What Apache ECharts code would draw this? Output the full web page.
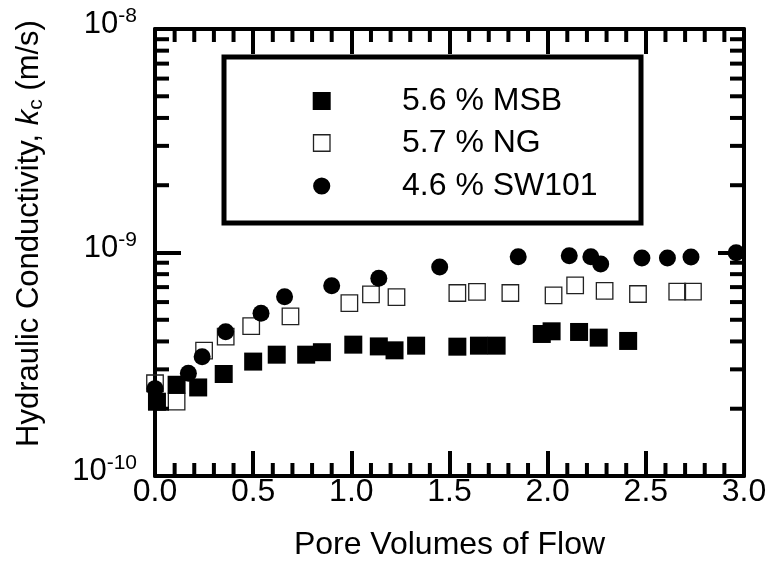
<!DOCTYPE html>
<html><head><meta charset="utf-8">
<script src="https://cdn.jsdelivr.net/npm/echarts@6/dist/echarts.min.js"></script>
<style>html,body{margin:0;padding:0;background:#fff}#c{width:775px;height:569px}</style>
</head><body><div id="c"></div>
<script>
// ---- data ----
const msbX = [0.01, 0.11, 0.22, 0.35, 0.50, 0.62, 0.77, 0.85, 1.01, 1.14, 1.22, 1.33, 1.54, 1.65, 1.74, 1.97, 2.02, 2.16, 2.26, 2.41];
const msbY = [2.15e-10, 2.56e-10, 2.49e-10, 2.86e-10, 3.25e-10, 3.49e-10, 3.49e-10, 3.58e-10, 3.87e-10, 3.80e-10, 3.65e-10, 3.83e-10, 3.79e-10, 3.83e-10, 3.83e-10, 4.32e-10, 4.44e-10, 4.41e-10, 4.16e-10, 4.02e-10];
const ngX = [0.00, 0.11, 0.25, 0.36, 0.49, 0.69, 0.99, 1.10, 1.23, 1.54, 1.64, 1.81, 2.03, 2.14, 2.29, 2.46, 2.66, 2.74];
const ngY = [2.60e-10, 2.15e-10, 3.64e-10, 4.20e-10, 4.68e-10, 5.18e-10, 5.94e-10, 6.50e-10, 6.32e-10, 6.59e-10, 6.66e-10, 6.59e-10, 6.43e-10, 7.13e-10, 6.73e-10, 6.52e-10, 6.68e-10, 6.68e-10];
const swX = [0.00, 0.17, 0.24, 0.36, 0.54, 0.66, 0.90, 1.14, 1.45, 1.85, 2.11, 2.22, 2.27, 2.48, 2.61, 2.73, 2.96];
const swY = [2.46e-10, 2.88e-10, 3.42e-10, 4.42e-10, 5.35e-10, 6.34e-10, 7.10e-10, 7.67e-10, 8.61e-10, 9.58e-10, 9.68e-10, 9.58e-10, 8.88e-10, 9.45e-10, 9.45e-10, 9.55e-10, 9.98e-10];
const seriesNames = ['5.6 % MSB', '5.7 % NG', '4.6 % SW101'];
const xTicks = [0, 0.5, 1.0, 1.5, 2.0, 2.5, 3.0];
const xMinorTicks = [0.1,0.2,0.3,0.4, 0.6,0.7,0.8,0.9, 1.1,1.2,1.3,1.4, 1.6,1.7,1.8,1.9, 2.1,2.2,2.3,2.4, 2.6,2.7,2.8,2.9];
const yDecades = [1e-10, 1e-9, 1e-8];
const yMinorTicks = [2e-10,3e-10,4e-10,5e-10,6e-10,7e-10,8e-10,9e-10,2e-9,3e-9,4e-9,5e-9,6e-9,7e-9,8e-9,9e-9];
const refLine = 1e-9;

// ---- chart ----
const FONT = "'Liberation Sans', Arial, Helvetica, sans-serif";
const zip = (a, b) => a.map((v, i) => [v, b[i]]);
const chart = echarts.init(document.getElementById('c'), null, {renderer: 'canvas'});
const X0 = xTicks[0], X1 = xTicks[xTicks.length - 1];
const Y0 = yDecades[0], Y1 = yDecades[yDecades.length - 1];

function xAxisDef(pos, labels) {
  return {
    type: 'value', position: pos, min: X0, max: X1, interval: xTicks[1] - xTicks[0],
    axisLine: {show: true, onZero: false, lineStyle: {color: '#000', width: 4}},
    axisTick: {show: true, inside: true, length: 25, lineStyle: {color: '#000', width: 4}},
    minorTick: {show: false}, splitLine: {show: false},
    axisLabel: {show: labels, fontSize: 32, color: '#000', fontFamily: FONT, margin: 0,
      formatter: v => v.toFixed(1)},
    name: labels ? 'Pore Volumes of Flow' : '', nameLocation: 'middle', nameGap: 53,
    nameTextStyle: {fontSize: 32, color: '#000', fontFamily: FONT}
  };
}
function yAxisDef(pos, labels) {
  return {
    type: 'log', logBase: 10, position: pos, min: Y0, max: Y1,
    axisLine: {show: true, onZero: false, lineStyle: {color: '#000', width: 4}},
    axisTick: {show: true, inside: true, length: 26, lineStyle: {color: '#000', width: 4}},
    minorTick: {show: false}, splitLine: {show: false},
    axisLabel: {show: labels, margin: 18, color: '#000', fontFamily: FONT,
      formatter: v => '{b|10}{s|' + Math.round(Math.log10(v)) + '}',
      rich: {
        b: {fontSize: 31, fontFamily: FONT, color: '#000', verticalAlign: 'bottom', padding: [0, 0, 12, 0]},
        s: {fontSize: 21, fontFamily: FONT, color: '#000', verticalAlign: 'bottom', padding: [0, 0, 25, 0]}
      }},
    name: labels ? '{n|Hydraulic Conductivity, }{i|k}{sub|c}{n| (m/s)}' : '',
    nameLocation: 'middle', nameGap: 108, nameRotate: 90,
    nameTextStyle: {fontSize: 31, color: '#000', fontFamily: FONT, padding: [0, 0, 0, 38],
      rich: {
        n: {fontSize: 31, fontFamily: FONT, color: '#000', verticalAlign: 'top', lineHeight: 33},
        i: {fontSize: 31, fontFamily: FONT, color: '#000', fontStyle: 'italic', verticalAlign: 'top', lineHeight: 33},
        sub: {fontSize: 21, fontFamily: FONT, color: '#000', verticalAlign: 'bottom', lineHeight: 21}
      }}
  };
}

const tickMarks = (pts, size, off) => ({
  type: 'scatter', silent: true, clip: false, z: 5, data: pts,
  symbol: 'rect', symbolSize: size, symbolOffset: off,
  itemStyle: {color: '#000', opacity: 1}
});

const legendY = [101, 143, 186];
chart.setOption({
  animation: false,
  backgroundColor: '#fff',
  textStyle: {fontFamily: FONT},
  grid: {left: 155, right: 31, top: 29, bottom: 93, containLabel: false},
  xAxis: [xAxisDef('bottom', true), xAxisDef('top', false)],
  yAxis: [yAxisDef('left', true), yAxisDef('right', false)],
  series: [
    {name: seriesNames[1], type: 'scatter', clip: false, data: zip(ngX, ngY), symbol: 'rect', symbolSize: 16.5,
      itemStyle: {color: 'rgba(0,0,0,0)', borderColor: '#222', borderWidth: 1.3, opacity: 1}, z: 3,
      markLine: {silent: true, symbol: 'none', label: {show: false},
        lineStyle: {color: '#555', width: 1, type: [8, 7], opacity: 1}, data: [{yAxis: refLine}]}},
    {name: seriesNames[0], type: 'scatter', clip: false, data: zip(msbX, msbY), symbol: 'rect', symbolSize: 18,
      itemStyle: {color: '#000', opacity: 1}, z: 3},
    {name: seriesNames[2], type: 'scatter', clip: false, data: zip(swX, swY), symbol: 'circle', symbolSize: 17,
      itemStyle: {color: '#000', opacity: 1}, z: 4},
    tickMarks(yMinorTicks.map(v => [X0, v]), [14, 4], [7, 0]),
    tickMarks(yMinorTicks.map(v => [X1, v]), [14, 4], [-7, 0]),
    tickMarks(xMinorTicks.map(v => [v, Y0]), [4, 13], [0, -6.5]),
    tickMarks(xMinorTicks.map(v => [v, Y1]), [4, 13], [0, 6.5])
  ],
  graphic: [
    {type: 'rect', z: 100, shape: {x: 224, y: 57, width: 417, height: 166},
      style: {fill: '#fff', stroke: '#000', lineWidth: 5}},
    {type: 'rect', z: 101, shape: {x: 312.7, y: legendY[0] - 9, width: 18, height: 18}, style: {fill: '#000'}},
    {type: 'rect', z: 101, shape: {x: 313.5, y: legendY[1] - 8.25, width: 16.5, height: 16.5},
      style: {fill: 'none', stroke: '#222', lineWidth: 1.3}},
    {type: 'circle', z: 101, shape: {cx: 321.7, cy: legendY[2], r: 8.6}, style: {fill: '#000'}},
    ...seriesNames.map((n, i) => ({type: 'text', z: 101, x: 402, y: legendY[i],
      style: {text: n, fontSize: 32, fontFamily: FONT, fill: '#000', verticalAlign: 'middle', align: 'left'}}))
  ]
});
</script></body></html>
